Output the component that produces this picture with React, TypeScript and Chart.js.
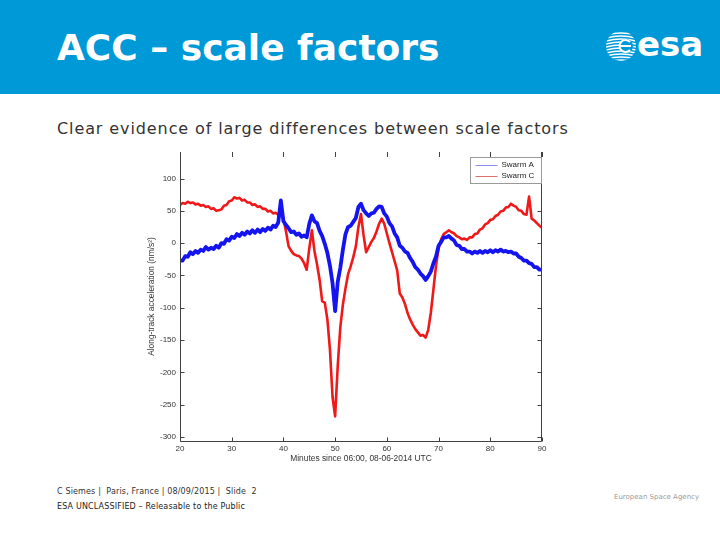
import React, { useEffect, useRef } from "react";
import { Chart, registerables } from "chart.js";

Chart.register(...registerables);

const TITLE = "ACC – scale factors";
const SUBTITLE = "Clear evidence of large differences between scale factors";
const X_TITLE = "Minutes since 06:00, 08-06-2014 UTC";
const Y_TITLE = "Along-track acceleration (nm/s²)";
const SERIES_LABELS = ["Swarm A", "Swarm C"];

const MINUTE_START = 20;
const MINUTE_STEP = 0.5;

// Swarm A (blue), every 0.5 min from 20 to 90
const SWARM_A = [
  -27, -27, -20, -21, -14, -17, -12, -15, -10, -12,
  -6, -10, -7, -9, -4, -7, 0, -1, 6, 4,
  10, 8, 14, 11, 16, 13, 18, 15, 20, 16,
  21, 17, 22, 19, 24, 21, 27, 25, 32, 66,
  34, 28, 23, 17, 18, 13, 15, 10, 12, 9,
  30, 43, 34, 31, 19, 11, -1, -15, -35, -62,
  -105, -60, -38, -10, 14, 25, 27, 33, 39, 56,
  61, 51, 46, 42, 46, 47, 53, 57, 56, 46,
  41, 31, 26, 15, 9, -4, -7, -13, -15, -23,
  -29, -37, -41, -47, -51, -57, -51, -44, -31, -21,
  -4, 2, 9, 9, 11, 7, 4, -3, -4, -9,
  -9, -13, -13, -16, -13, -15, -12, -15, -12, -14,
  -11, -14, -11, -13, -10, -13, -12, -14, -13, -16,
  -16, -21, -23, -27, -27, -31, -32, -37, -37, -41,
  -41,
];

// Swarm C (red), every 0.5 min from 20 to 90
const SWARM_C = [
  59, 62, 61, 64, 62, 63, 60, 61, 58, 59,
  56, 57, 53, 54, 50, 51, 52, 58, 59, 65,
  66, 71, 69, 70, 66, 67, 63, 63, 59, 60,
  56, 57, 53, 53, 49, 50, 46, 47, 44, 45,
  38, 18, -5, -12, -17, -19, -20, -24, -31, -41,
  -8, 20, -12, -33, -57, -90, -92, -118, -165, -238,
  -268, -190, -130, -95, -70, -48, -36, -22, -5, 25,
  45, 12, -14, -6, 2, 8, 18, 30, 38, 30,
  15, 0, -14, -28, -42, -78, -84, -94, -108, -118,
  -126, -133, -138, -143, -142, -146, -134, -108, -72, -35,
  -8, 6, 14, 17, 20, 17, 15, 11, 9, 6,
  7, 5, 9, 9, 14, 15, 21, 23, 29, 31,
  36, 37, 42, 44, 49, 50, 55, 56, 61, 58,
  56, 51, 50, 45, 44, 72, 38, 35, 31, 27,
  24,
];

const X_TICKS = [20, 30, 40, 50, 60, 70, 80, 90];
const Y_TICKS = [-300, -250, -200, -150, -100, -50, 0, 50, 100];
const X_MIN = 20;
const X_MAX = 90;
const Y_MIN = -306;
const Y_MAX = 141;

const COLOR_A = "#1414f0";
const COLOR_C = "#f01818";
const LEGEND_A = "#8c8cf0";
const LEGEND_C = "#e07070";

const toPoints = (vals: number[]) =>
  vals.map((v, i) => ({ x: MINUTE_START + i * MINUTE_STEP, y: v }));

const framePlugin = {
  id: "matlabFrame",
  afterDatasetsDraw(chart: any) {
    const { ctx, chartArea: a, scales } = chart;
    const xs = scales.x;
    const ys = scales.y;
    ctx.save();
    ctx.strokeStyle = "#404040";
    ctx.lineWidth = 1;
    ctx.beginPath();
    const L = Math.round(a.left) + 0.5;
    const R = Math.round(a.right) - 0.5;
    const B = Math.round(a.bottom) + 0.5;
    ctx.moveTo(L, a.top);
    ctx.lineTo(L, B);
    ctx.lineTo(R, B);
    ctx.lineTo(R, a.top);
    X_TICKS.forEach((v) => {
      const px = Math.round(xs.getPixelForValue(v)) + 0.5;
      ctx.moveTo(px, B);
      ctx.lineTo(px, B - 4);
      ctx.moveTo(px, a.top);
      ctx.lineTo(px, a.top + 5);
    });
    Y_TICKS.forEach((v) => {
      const py = Math.round(ys.getPixelForValue(v)) + 0.5;
      ctx.moveTo(L, py);
      ctx.lineTo(L + 4, py);
      ctx.moveTo(R, py);
      ctx.lineTo(R - 4, py);
    });
    ctx.stroke();

    // legend
    const bw = 71;
    const bh = 26;
    const bx = Math.round(a.right) - bw - 0.5;
    const by = Math.round(a.top) + 5.5;
    ctx.fillStyle = "#ffffff";
    ctx.fillRect(bx, by, bw, bh);
    ctx.strokeStyle = "#9a9a9a";
    ctx.strokeRect(bx, by, bw, bh);
    const items = [
      { label: SERIES_LABELS[0], color: LEGEND_A },
      { label: SERIES_LABELS[1], color: LEGEND_C },
    ];
    ctx.font = "8px 'Liberation Sans', Arial, sans-serif";
    ctx.textBaseline = "middle";
    ctx.textAlign = "left";
    items.forEach((it, i) => {
      const yy = by + 7 + i * 11;
      ctx.strokeStyle = it.color;
      ctx.beginPath();
      ctx.moveTo(bx + 5, Math.round(yy) + 0.5);
      ctx.lineTo(bx + 27, Math.round(yy) + 0.5);
      ctx.stroke();
      ctx.fillStyle = "#222";
      ctx.fillText(it.label, bx + 31, yy);
    });
    ctx.restore();
  },
};

function ChartCanvas() {
  const ref = useRef<HTMLCanvasElement | null>(null);
  useEffect(() => {
    if (!ref.current) return;
    const tickFont = { family: "'Liberation Sans', Arial, sans-serif", size: 8 };
    const titleFont = { family: "'Liberation Sans', Arial, sans-serif", size: 8.4 };
    const chart = new Chart(ref.current, {
      type: "line",
      data: {
        datasets: [
          {
            label: SERIES_LABELS[0],
            data: toPoints(SWARM_A),
            borderColor: COLOR_A,
            borderWidth: 3.8,
            pointRadius: 0,
            tension: 0,
            borderJoinStyle: "round",
          },
          {
            label: SERIES_LABELS[1],
            data: toPoints(SWARM_C),
            borderColor: COLOR_C,
            borderWidth: 2.6,
            pointRadius: 0,
            tension: 0,
            borderJoinStyle: "round",
          },
        ],
      },
      options: {
        animation: false,
        responsive: false,
        maintainAspectRatio: false,
        layout: { padding: { left: 0, right: 8, top: 0, bottom: 0 } },
        plugins: { legend: { display: false }, tooltip: { enabled: false } },
        scales: {
          x: {
            type: "linear",
            min: X_MIN,
            max: X_MAX,
            afterBuildTicks: (s: any) => {
              s.ticks = X_TICKS.map((v) => ({ value: v }));
            },
            afterFit: (s: any) => {
              s.height = 29;
              s.paddingLeft = 0;
              s.paddingRight = 0;
              s.paddingTop = 0;
              s.paddingBottom = 0;
            },
            grid: { display: false, drawTicks: false },
            border: { display: false },
            ticks: { font: tickFont, color: "#333", padding: 3, maxRotation: 0, autoSkip: false },
            title: {
              display: true,
              text: X_TITLE,
              font: titleFont,
              color: "#333",
              padding: { top: 0, bottom: 6 },
            },
          },
          y: {
            type: "linear",
            min: Y_MIN,
            max: Y_MAX,
            afterBuildTicks: (s: any) => {
              s.ticks = Y_TICKS.map((v) => ({ value: v }));
            },
            afterFit: (s: any) => {
              s.width = 50;
              s.paddingLeft = 0;
              s.paddingRight = 0;
              s.paddingTop = 0;
              s.paddingBottom = 0;
            },
            grid: { display: false, drawTicks: false },
            border: { display: false },
            ticks: { font: tickFont, color: "#333", padding: 4, autoSkip: false },
            title: {
              display: true,
              text: Y_TITLE,
              font: titleFont,
              color: "#333",
              padding: { top: 17, bottom: 0 },
            },
          },
        },
      },
      plugins: [framePlugin],
    });
    return () => chart.destroy();
  }, []);
  return <canvas ref={ref} width={420} height={318} style={{ display: "block" }} />;
}

function EsaIcon() {
  return (
    <svg width="30" height="34" viewBox="0 0 30 34" style={{ position: "absolute", left: 606, top: 29 }}>
      <defs>
        <clipPath id="globe">
          <circle cx="15" cy="17" r="15" />
        </clipPath>
      </defs>
      <g clipPath="url(#globe)" stroke="#ffffff" strokeWidth="1.3" fill="none">
        {[3, 6, 9, 12, 15, 18, 21, 24, 27, 30, 33].map((yy) => (
          <path key={yy} d={`M0 ${yy} Q15 ${yy - 4} 30 ${yy}`} />
        ))}
      </g>
      <circle cx="20" cy="17" r="7" fill="#0099d8" />
      <path d="M14 17 H25 M24 13 A6 6 0 1 0 24 21" stroke="#ffffff" strokeWidth="2" fill="none" />
    </svg>
  );
}

export default function App() {
  return (
    <div
      style={{
        position: "absolute",
        left: 0,
        top: 0,
        width: 720,
        height: 540,
        background: "#ffffff",
        overflow: "hidden",
        fontFamily: "'DejaVu Sans', Verdana, sans-serif",
      }}
    >
      <div style={{ position: "absolute", left: 0, top: 0, width: 720, height: 94, background: "#0099d8" }} />
      <div
        style={{
          position: "absolute",
          left: 57,
          top: 29.5,
          fontSize: 36,
          lineHeight: "36px",
          fontWeight: "bold",
          color: "#ffffff",
          whiteSpace: "nowrap",
        }}
      >
        {TITLE}
      </div>
      <EsaIcon />
      <div
        style={{
          position: "absolute",
          left: 637,
          top: 27,
          fontSize: 34,
          lineHeight: "34px",
          fontWeight: "bold",
          color: "#ffffff",
          whiteSpace: "nowrap",
        }}
      >
        esa
      </div>
      <div
        style={{
          position: "absolute",
          left: 57,
          top: 120.5,
          fontSize: 16,
          lineHeight: "16px",
          letterSpacing: "0.9px",
          color: "#333333",
          whiteSpace: "nowrap",
        }}
      >
        {SUBTITLE}
      </div>
      <div style={{ position: "absolute", left: 130, top: 152, width: 420, height: 318 }}>
        <ChartCanvas />
      </div>
      <div
        style={{
          position: "absolute",
          left: 57,
          top: 488,
          fontSize: 8,
          lineHeight: "8px",
          letterSpacing: "0.15px",
          color: "#333333",
          whiteSpace: "pre",
        }}
      >
        {"C Siemes |  Paris, France | 08/09/2015 |  Slide  2"}
      </div>
      <div
        style={{
          position: "absolute",
          left: 57,
          top: 503,
          fontSize: 8,
          lineHeight: "8px",
          letterSpacing: "0.15px",
          color: "#222222",
          whiteSpace: "pre",
        }}
      >
        {"ESA UNCLASSIFIED – Releasable to the Public"}
      </div>
      <div
        style={{
          position: "absolute",
          left: 614,
          top: 493,
          fontSize: 7,
          lineHeight: "8px",
          color: "#9a9a9a",
          whiteSpace: "nowrap",
        }}
      >
        European Space Agency
      </div>
    </div>
  );
}
